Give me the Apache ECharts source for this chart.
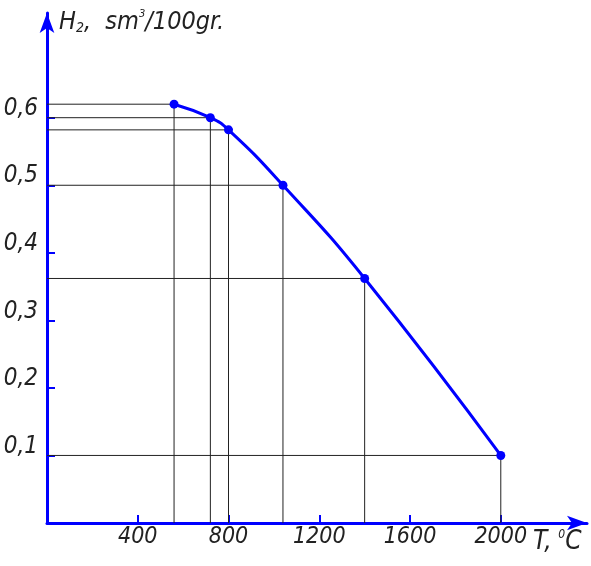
<!DOCTYPE html>
<html>
<head>
<meta charset="utf-8">
<script src="https://cdn.jsdelivr.net/npm/echarts@6/dist/echarts.min.js"></script>
<style>
 html, body { margin: 0; padding: 0; background: #fff; }
 #chartMain { width: 591px; height: 566px; }
</style>
</head>
<body>
<div id="chartMain"></div>
<script>
 var temps = [560, 720, 800, 1040, 1400, 2000]; // T, °C
 var h2 = [0.62, 0.60, 0.582, 0.50, 0.362, 0.10]; // H2, sm3/100gr
 var xTicks = [400, 800, 1200, 1600, 2000];
 var yTicks = [0.1, 0.2, 0.3, 0.4, 0.5, 0.6];

 var FONT = "'Liberation Sans Narrow', 'DejaVu Sans Condensed', sans-serif";
 var BLUE = '#0000ff';
 var INK = '#222';

 var myChart = echarts.init(document.getElementById('chartMain'));

 //вспомогательные линии от точек к осям
 var guides = [];
 for (var i = 0; i < temps.length; i++) {
	guides.push({
		type: 'line',
		silent: true,
		symbol: 'none',
		z: 1,
		lineStyle: { color: INK, width: 1 },
		data: [[0, h2[i]], [temps[i], h2[i]], [temps[i], 0]]
	});
 }

 var curve = [];
 for (var j = 0; j < temps.length; j++) {
	curve.push([temps[j], h2[j]]);
 }

 var option = {
	animation: false,
	grid: { left: 47, top: 13, width: 540, height: 510 },
	xAxis: {
		type: 'value',
		min: 0,
		max: 2380,
		splitLine: { show: false },
		axisLine: { lineStyle: { color: BLUE, width: 3 }, symbol: ['none', 'arrow'], symbolSize: [11, 20] },
		axisTick: { inside: true, length: 8, lineStyle: { color: BLUE, width: 2 }, customValues: xTicks },
		axisLabel: {
			customValues: xTicks,
			margin: 3,
			color: INK,
			fontFamily: FONT,
			fontStyle: 'italic',
			fontSize: 23,
			formatter: function(v) {
				return String(v);
			}
		},
		name: '{i|T,}  {sup|0}{i|C}',
		nameLocation: 'end',
		nameGap: -60,
		nameTextStyle: {
			align: 'left',
			verticalAlign: 'top',
			padding: [6, 0, 0, 0],
			rich: {
				i: { fontFamily: FONT, fontStyle: 'italic', fontSize: 26, color: INK },
				sup: { fontFamily: FONT, fontStyle: 'italic', fontSize: 12, color: INK, verticalAlign: 'top', padding: [0, 0, 14, 0] }
			}
		}
	},
	yAxis: {
		type: 'value',
		min: 0,
		max: 0.755,
		splitLine: { show: false },
		axisLine: { lineStyle: { color: BLUE, width: 3 }, symbol: ['none', 'arrow'], symbolSize: [11, 20] },
		axisTick: { inside: true, length: 8, lineStyle: { color: BLUE, width: 2 }, customValues: yTicks },
		axisLabel: {
			customValues: yTicks,
			margin: 9,
			verticalAlign: 'bottom',
			lineHeight: 18,
			color: INK,
			fontFamily: FONT,
			fontStyle: 'italic',
			fontSize: 24,
			formatter: function(v) {
				return v.toFixed(1).replace('.', ',');
			}
		},
		name: '{i|H}{sub|2}{i|,  sm}{sup|3}{i|/100gr.}',
		nameLocation: 'end',
		nameGap: 0,
		nameTextStyle: {
			align: 'left',
			verticalAlign: 'middle',
			padding: [18, 0, 0, 12],
			rich: {
				i: { fontFamily: FONT, fontStyle: 'italic', fontSize: 25, color: INK },
				sub: { fontFamily: FONT, fontStyle: 'italic', fontSize: 14, color: INK, padding: [12, 0, 0, 0] },
				sup: { fontFamily: FONT, fontStyle: 'italic', fontSize: 11, color: INK, padding: [0, 0, 16, 0] }
			}
		}
	},
	series: guides.concat([{
		type: 'line',
		z: 3,
		smooth: 0.5,
		symbol: 'circle',
		symbolSize: 9,
		lineStyle: { color: BLUE, width: 3 },
		itemStyle: { color: BLUE },
		data: curve
	}])
 };

 myChart.setOption(option);
</script>
</body>
</html>
